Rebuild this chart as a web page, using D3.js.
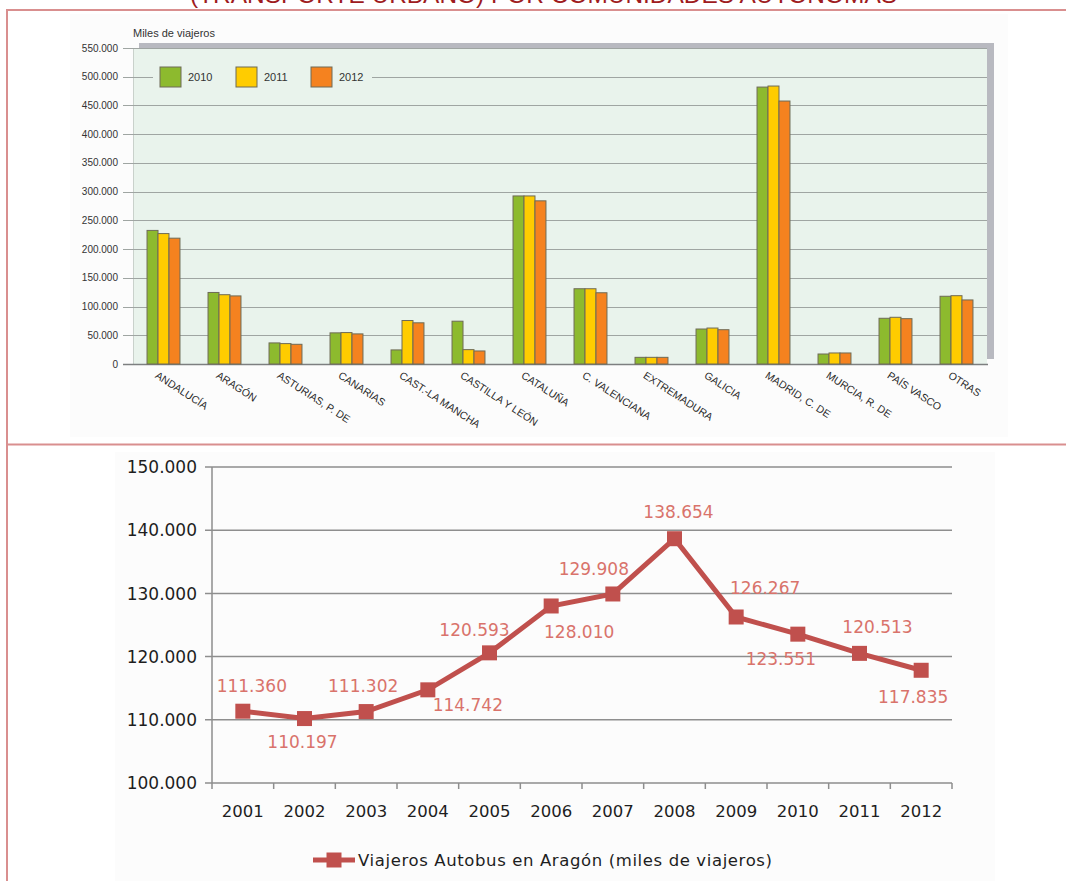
<!DOCTYPE html>
<html>
<head>
<meta charset="utf-8">
<script src="https://cdn.jsdelivr.net/npm/d3@7/dist/d3.min.js"></script>
<style>
  html, body { margin: 0; padding: 0; background: #ffffff; }
  svg { display: block; }
</style>
</head>
<body>
<svg id="page" width="1066" height="881"></svg>
<script>
// ---- Viajeros por comunidades autónomas (miles), 2010-2012 ----
const regions = ["ANDALUCÍA", "ARAGÓN", "ASTURIAS, P. DE", "CANARIAS", "CAST.-LA MANCHA",
  "CASTILLA Y LEÓN", "CATALUÑA", "C. VALENCIANA", "EXTREMADURA", "GALICIA",
  "MADRID, C. DE", "MURCIA, R. DE", "PAÍS VASCO", "OTRAS"];
const seriesYears = ["2010", "2011", "2012"];
const values2010 = [232500, 124500, 36700, 54200, 24500, 74500, 292500, 131000, 11600, 60900, 482000, 17400, 79600, 117900];
const values2011 = [227000, 120600, 35500, 54700, 75700, 25000, 292500, 131000, 11600, 62600, 483800, 19200, 81300, 118900];
const values2012 = [219000, 118500, 34300, 52400, 71700, 22700, 284000, 124000, 11600, 59700, 457700, 19200, 78900, 111500];
const barTicks = [0, 50000, 100000, 150000, 200000, 250000, 300000, 350000, 400000, 450000, 500000, 550000];

// ---- Viajeros autobús en Aragón (miles), 2001-2012 ----
const busYears = ["2001", "2002", "2003", "2004", "2005", "2006", "2007", "2008", "2009", "2010", "2011", "2012"];
const busValues = [111360, 110197, 111302, 114742, 120593, 128010, 129908, 138654, 126267, 123551, 120513, 117835];
const lineTicks = [100000, 110000, 120000, 130000, 140000, 150000];

// label placement around each point (dx, dy from marker centre)
const labelOffsets = [[9, -25], [-2, 23], [-3, -26], [40, 15], [-15, -23], [28, 26],
  [-19, -25], [4, -27], [29, -29], [-17, 25], [18, -26], [-8, 27]];

const fmt = d => d3.format(",")(d).replace(/,/g, ".");

const svg = d3.select("#page");

// faint backing panels of the two figures
svg.append("rect").attr("x", 70).attr("y", 14).attr("width", 938).attr("height", 423).attr("fill", "#fcfcfc");
svg.append("rect").attr("x", 115).attr("y", 452).attr("width", 880).attr("height", 429).attr("fill", "#fcfcfc");

// section title (runs off the top edge)
svg.append("text")
  .attr("x", 190).attr("y", 3)
  .attr("font-family", "Liberation Sans Narrow, Liberation Sans, sans-serif")
  .attr("font-size", 23)
  .attr("fill", "#9e1b20")
  .attr("textLength", 707)
  .attr("lengthAdjust", "spacingAndGlyphs")
  .text("(TRANSPORTE URBANO) POR COMUNIDADES AUTÓNOMAS");

// frame lines
const frame = "#d98f8f";
svg.append("line").attr("x1", 6).attr("x2", 1066).attr("y1", 10).attr("y2", 10).attr("stroke", frame).attr("stroke-width", 2);
svg.append("line").attr("x1", 7).attr("x2", 7).attr("y1", 9).attr("y2", 881).attr("stroke", frame).attr("stroke-width", 2);
svg.append("line").attr("x1", 6).attr("x2", 1066).attr("y1", 444.5).attr("y2", 444.5).attr("stroke", frame).attr("stroke-width", 2);

// ================= grouped bar chart =================
(function () {
  const left = 133, right = 987, top = 48, bottom = 364;
  const y = d3.scaleLinear().domain([0, 550000]).range([bottom, top]);
  const x = d3.scaleBand().domain(regions).range([left, right]);
  const groupW = x.bandwidth() * 0.54;
  const x1 = d3.scaleBand().domain(seriesYears).range([0, groupW]);
  const colors = d3.scaleOrdinal().domain(seriesYears).range(["#8dba2e", "#ffcc00", "#f5821f"]);
  const g = svg.append("g");

  // 3D-ish wall: grey shadow behind plot
  g.append("rect").attr("x", left + 6).attr("y", top - 5).attr("width", right - left + 1).attr("height", bottom - top)
    .attr("fill", "#b8b9c0");
  g.append("rect").attr("x", left).attr("y", top).attr("width", right - left).attr("height", bottom - top)
    .attr("fill", "#e9f3ec");
  g.append("line").attr("x1", left + 0.5).attr("x2", left + 0.5).attr("y1", top).attr("y2", bottom)
    .attr("stroke", "#c9d1cb");

  // gridlines + tick labels
  g.selectAll(".grid").data(barTicks.filter(d => d > 0)).join("line")
    .attr("x1", left - 10).attr("x2", right)
    .attr("y1", d => Math.round(y(d)) + 0.5).attr("y2", d => Math.round(y(d)) + 0.5)
    .attr("stroke", "#9fa5a2").attr("stroke-width", 1);
  g.append("line").attr("x1", left - 10).attr("x2", right + 1)
    .attr("y1", y(0) + 0.5).attr("y2", y(0) + 0.5).attr("stroke", "#7d7f80").attr("stroke-width", 1.5);

  g.selectAll(".ytl").data(barTicks).join("text")
    .attr("x", 118).attr("y", d => y(d)).attr("dy", "0.35em")
    .attr("text-anchor", "end")
    .attr("font-family", "Liberation Sans, Arial, sans-serif").attr("font-size", 10)
    .attr("fill", "#333").text(d => d === 0 ? "0" : fmt(d));

  g.append("text").attr("x", 133).attr("y", 37)
    .attr("font-family", "Liberation Sans, Arial, sans-serif").attr("font-size", 11)
    .attr("fill", "#333").text("Miles de viajeros");

  // bars
  const seriesVals = { "2010": values2010, "2011": values2011, "2012": values2012 };
  const rows = [];
  regions.forEach((r, i) => seriesYears.forEach(s => rows.push({ r, s, v: seriesVals[s][i] })));
  const offset = (x.bandwidth() - groupW) / 2;
  g.selectAll(".bar").data(rows).join("rect")
    .attr("x", d => x(d.r) + offset + x1(d.s))
    .attr("y", d => y(d.v))
    .attr("width", x1.bandwidth())
    .attr("height", d => y(0) - y(d.v))
    .attr("fill", d => colors(d.s))
    .attr("stroke", "#6e6a56").attr("stroke-width", 1);

  // category labels, slanted
  g.selectAll(".xl").data(regions).join("text")
    .attr("transform", d => `translate(${x(d) + x.bandwidth() / 2 - 5},${bottom + 7}) rotate(33)`)
    .attr("dy", "0.71em")
    .attr("font-family", "Liberation Sans, Arial, sans-serif").attr("font-size", 10.5)
    .attr("fill", "#2a2a2a").text(d => d);

  // legend
  const lg = g.append("g");
  lg.append("rect").attr("x", 153).attr("y", 62).attr("width", 219).attr("height", 30).attr("fill", "#e9f3ec");
  const legendX = [160, 236, 311];
  seriesYears.forEach((s, i) => {
    lg.append("rect").attr("x", legendX[i]).attr("y", 67).attr("width", 21).attr("height", 20)
      .attr("fill", colors(s)).attr("stroke", "#6e6a56");
    lg.append("text").attr("x", legendX[i] + 28).attr("y", 77).attr("dy", "0.35em")
      .attr("font-family", "Liberation Sans, Arial, sans-serif").attr("font-size", 11)
      .attr("fill", "#333").text(s);
  });
})();

// ================= line chart =================
(function () {
  const left = 212, right = 952, top = 467, bottom = 783;
  const y = d3.scaleLinear().domain([100000, 150000]).range([bottom, top]);
  const x = d3.scaleBand().domain(busYears).range([left, right]);
  const cx = d => x(d) + x.bandwidth() / 2;
  const lineColor = "#c0504d";
  const font = "DejaVu Sans, Verdana, sans-serif";
  const g = svg.append("g");

  g.selectAll(".grid").data(lineTicks).join("line")
    .attr("x1", left - 7).attr("x2", right)
    .attr("y1", d => y(d)).attr("y2", d => y(d))
    .attr("stroke", "#8e8e8e").attr("stroke-width", 1.5);
  g.append("line").attr("x1", left).attr("x2", left).attr("y1", top).attr("y2", bottom + 6)
    .attr("stroke", "#8e8e8e").attr("stroke-width", 1.5);

  // x tick marks at band edges
  const edges = busYears.map(d => x(d)).slice(1).concat([right]);
  g.selectAll(".xt").data(edges).join("line")
    .attr("x1", d => d).attr("x2", d => d).attr("y1", bottom).attr("y2", bottom + 6)
    .attr("stroke", "#8e8e8e").attr("stroke-width", 1.5);

  g.selectAll(".ytl").data(lineTicks).join("text")
    .attr("x", 197).attr("y", d => y(d)).attr("dy", "0.36em")
    .attr("text-anchor", "end").attr("font-family", font).attr("font-size", 17)
    .attr("fill", "#1e1e1e").text(fmt);

  g.selectAll(".xtl").data(busYears).join("text")
    .attr("x", cx).attr("y", 811).attr("dy", "0.36em")
    .attr("text-anchor", "middle").attr("font-family", font).attr("font-size", 16.5)
    .attr("fill", "#1e1e1e").text(d => d);

  const pts = busYears.map((d, i) => ({ year: d, v: busValues[i], off: labelOffsets[i] }));
  g.append("path").datum(pts)
    .attr("d", d3.line().x(d => cx(d.year)).y(d => y(d.v)))
    .attr("fill", "none").attr("stroke", lineColor).attr("stroke-width", 5).attr("stroke-linejoin", "miter");
  g.selectAll(".mk").data(pts).join("rect")
    .attr("x", d => cx(d.year) - 7.5).attr("y", d => y(d.v) - 7.5)
    .attr("width", 15).attr("height", 15).attr("fill", lineColor);

  g.selectAll(".dl").data(pts).join("text")
    .attr("x", d => cx(d.year) + d.off[0]).attr("y", d => y(d.v) + d.off[1]).attr("dy", "0.36em")
    .attr("text-anchor", "middle").attr("font-family", font).attr("font-size", 17)
    .attr("fill", "#d9736b").text(d => fmt(d.v));

  // legend
  const ly = 860;
  g.append("line").attr("x1", 313).attr("x2", 355).attr("y1", ly).attr("y2", ly)
    .attr("stroke", lineColor).attr("stroke-width", 5);
  g.append("rect").attr("x", 334 - 7.5).attr("y", ly - 7.5).attr("width", 15).attr("height", 15).attr("fill", lineColor);
  g.append("text").attr("x", 358).attr("y", ly).attr("dy", "0.36em")
    .attr("font-family", font).attr("font-size", 16.5).attr("fill", "#1e1e1e")
    .attr("textLength", 414).attr("lengthAdjust", "spacing")
    .text("Viajeros Autobus en Aragón (miles de viajeros)");
})();
</script>
</body>
</html>
